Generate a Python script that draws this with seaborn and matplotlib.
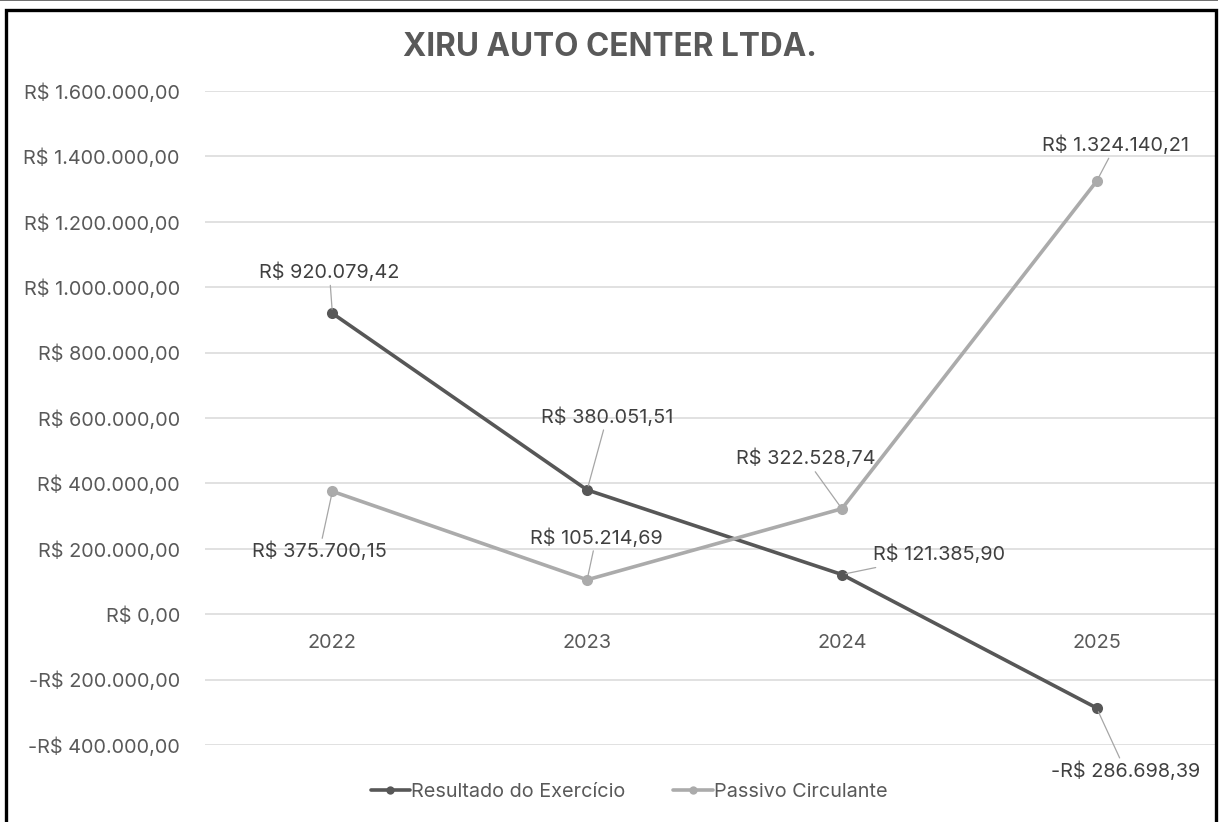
import pandas as pd
import matplotlib
matplotlib.use("Agg")
import matplotlib.pyplot as plt
import seaborn as sns
from matplotlib.patches import Rectangle
from matplotlib.lines import Line2D

# Data
anos = ["2022", "2023", "2024", "2025"]
resultado = [920079.42, 380051.51, 121385.90, -286698.39]
passivo = [375700.15, 105214.69, 322528.74, 1324140.21]
series_names = ["Resultado do Exercício", "Passivo Circulante"]
y_ticks = [-400000, -200000, 0, 200000, 400000, 600000, 800000,
           1000000, 1200000, 1400000, 1600000]


def brl(v, dec=2):
    s = f"{abs(v):,.{dec}f}".replace(",", "X").replace(".", ",").replace("X", ".")
    return ("-R$ " if v < 0 else "R$ ") + s


df = pd.DataFrame({
    "idx": list(range(len(anos))) * 2,
    "valor": resultado + passivo,
    "serie": [series_names[0]] * len(anos) + [series_names[1]] * len(anos),
})

sns.set_theme(style="white")
plt.rcParams["font.family"] = ["Inter", "DejaVu Sans"]

dark = "#575757"
light = "#ABABAB"
txt = "#595959"
fs = 14.3

fig = plt.figure(figsize=(12.19, 8.22), dpi=100)
# plot area runs past the right frame, as in the reference
ax = fig.add_axes([205 / 1219, 1 - 745 / 822, (1224 - 205) / 1219, (745 - 91) / 822])

sns.lineplot(data=df, x="idx", y="valor", hue="serie",
             palette={series_names[0]: dark, series_names[1]: light},
             marker="o", markersize=8, markeredgewidth=0, linewidth=2.6,
             legend=False, ax=ax)

ax.set_xlim(-0.5, len(anos) - 0.5)
ax.set_ylim(-400000, 1600000)
ax.set_yticks(y_ticks)
ax.set_yticklabels([brl(v) for v in y_ticks], fontsize=fs, color=txt)
ax.set_xticks([])
ax.set_xlabel("")
ax.set_ylabel("")
ax.tick_params(axis="y", length=0, pad=18)
ax.grid(axis="y", color="#D9D9D9", linewidth=1.1)
ax.set_axisbelow(True)
for sp in ax.spines.values():
    sp.set_visible(False)

# year labels just below the zero line
for i, a in enumerate(anos):
    ax.annotate(a, xy=(i, 0), xytext=(0, -29), textcoords="offset pixels",
                ha="center", va="center", fontsize=fs, color=txt)

# data labels with leader lines (offsets in pixels)
offsets_res = [(-3, 41), (20, 73), (97, 20), (29, -63)]
offsets_pas = [(-13, -60), (9, 42), (-36, 50), (19, 36)]
for vals, offs in [(resultado, offsets_res), (passivo, offsets_pas)]:
    for i, (v, o) in enumerate(zip(vals, offs)):
        ax.annotate(brl(v), xy=(i, v), xytext=o, textcoords="offset pixels",
                    ha="center", va="center", fontsize=fs, color="#404040",
                    arrowprops=dict(arrowstyle="-", color="#A6A6A6", lw=0.9,
                                    shrinkA=0, shrinkB=3))

fig.text(0.5, 1 - 48 / 822, "XIRU AUTO CENTER LTDA.", ha="center", va="center",
         fontsize=22.7, fontweight="bold", color=txt)

handles = [Line2D([0], [0], color=dark, lw=2.6, marker="o", markersize=6, markeredgewidth=0),
           Line2D([0], [0], color=light, lw=2.6, marker="o", markersize=6, markeredgewidth=0)]
fig.legend(handles, series_names, loc="center", bbox_to_anchor=(0.516, 1 - 792 / 822),
           ncol=2, frameon=False, fontsize=fs, labelcolor=txt,
           handlelength=2.0, handletextpad=0.05, columnspacing=2.4)

# outer frame
fig.patches.append(Rectangle((6 / 1219, -0.05), (1216 - 6) / 1219, 1.05 - 10 / 822,
                             transform=fig.transFigure, fill=False,
                             edgecolor="black", linewidth=2.4, zorder=10))
fig.patches.append(Rectangle((1217.5 / 1219, 0), 2 / 1219, 1,
                             transform=fig.transFigure, facecolor="white",
                             edgecolor="none", zorder=9))
fig.add_artist(Line2D([0, 1], [0.9995, 0.9995], transform=fig.transFigure,
                      color="#555555", lw=1.2))

fig.savefig("out.png", dpi=100)
